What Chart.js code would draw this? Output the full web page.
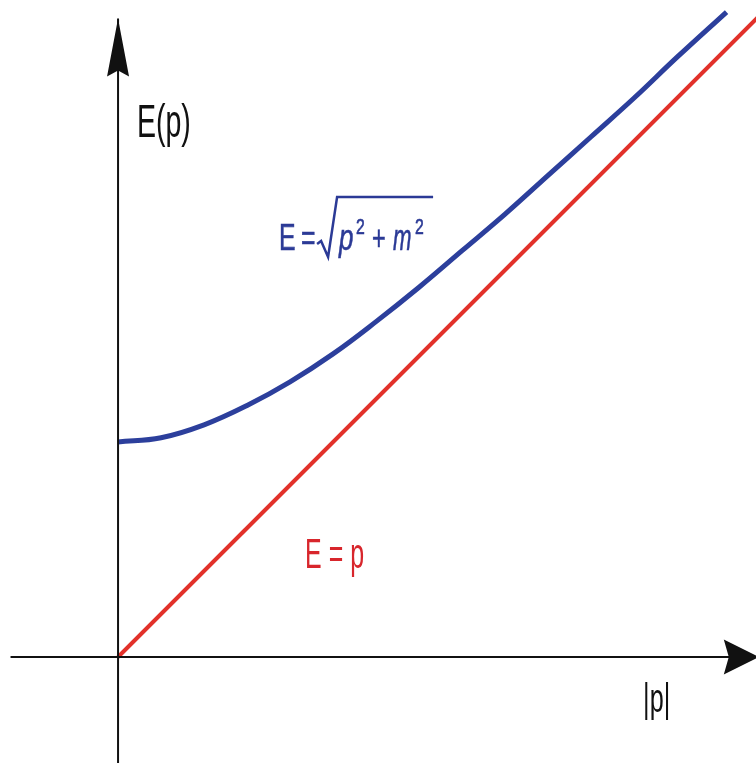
<!DOCTYPE html>
<html>
<head>
<meta charset="utf-8">
<script src="https://cdn.jsdelivr.net/npm/chart.js@4/dist/chart.umd.min.js"></script>
<style>
    html, body { margin: 0; padding: 0; background: #ffffff; }
    #wrap { width: 756px; height: 763px; }
</style>
</head>
<body>
<div id="wrap"><canvas id="energyChart"></canvas></div>
<script>
// momentum |p| in units of m, energy E in the same units
const momentum = [0, 0.2, 0.4, 0.6, 0.8, 1.0, 1.2, 1.4, 1.6, 1.8, 2.0, 2.2, 2.4, 2.6, 2.83];
const energyMassive = [1.00, 1.02, 1.08, 1.17, 1.28, 1.41, 1.56, 1.72, 1.89, 2.06, 2.24, 2.42, 2.60, 2.79, 3.00];
const momentumMassless = [0, 3.1];
const energyMassless = [0, 3.1];

// axis ends: [start, tip]
const xAxisRange = [-0.5, 2.98];
const yAxisRange = [-0.5, 2.97];

const pRange = [-0.549, 2.967];
const eRange = [-0.493, 3.056];

function toPoints(xs, ys) {
    return xs.map(function (x, i) { return { x: x, y: ys[i] }; });
}

// arrowheads at the end of each axis line, sizes in pixels
const arrowPlugin = {
    id: 'axisArrows',
    afterDatasetsDraw: function (chart) {
        const ctx = chart.ctx;
        chart.data.datasets.forEach(function (ds, i) {
            if (!ds.arrow) return;
            const pts = chart.getDatasetMeta(i).data;
            const tip = pts[pts.length - 1];
            const prev = pts[pts.length - 2];
            const ang = Math.atan2(tip.y - prev.y, tip.x - prev.x);
            const a = ds.arrow;
            ctx.save();
            ctx.translate(tip.x, tip.y);
            ctx.rotate(ang);
            ctx.beginPath();
            ctx.moveTo(0, 0);
            ctx.lineTo(-a.length, -a.half);
            ctx.lineTo(-a.length + a.notch, 0);
            ctx.lineTo(-a.length, a.half);
            ctx.closePath();
            ctx.fillStyle = '#111111';
            ctx.fill();
            ctx.restore();
        });
    }
};

// text labels, anchored in data coordinates
const labelPlugin = {
    id: 'curveLabels',
    afterDatasetsDraw: function (chart) {
        const ctx = chart.ctx;
        const xs = chart.scales.x;
        const ys = chart.scales.y;

        function squeezed(text, p, e, size, sx, color) {
            ctx.save();
            ctx.translate(xs.getPixelForValue(p), ys.getPixelForValue(e));
            ctx.scale(sx, 1);
            ctx.font = size + 'px "Liberation Sans", Arial, sans-serif';
            ctx.fillStyle = color;
            ctx.textBaseline = 'alphabetic';
            ctx.fillText(text, 0, 0);
            ctx.restore();
        }

        squeezed('E(p)', 0.088, 2.419, 46, 0.62, '#111111');
        squeezed('|p|', 2.442, -0.256, 40, 0.63, '#111111');
        squeezed('E = p', 0.870, 0.414, 43, 0.58, '#d8262c');

        // E = sqrt(p^2 + m^2)
        const blue = '#2b3a96';
        const x0 = xs.getPixelForValue(0.749);
        const y0 = ys.getPixelForValue(1.893);
        ctx.save();
        ctx.translate(x0, y0);
        ctx.fillStyle = blue;
        ctx.strokeStyle = blue;
        ctx.lineWidth = 0.6;

        function part(text, dx, dy, size, sx, italic) {
            ctx.save();
            ctx.translate(dx, dy);
            ctx.scale(sx, 1);
            ctx.font = (italic ? 'italic ' : '') + size + 'px "Liberation Sans", Arial, sans-serif';
            ctx.fillText(text, 0, 0);
            ctx.strokeText(text, 0, 0);
            ctx.restore();
        }

        part('E', 0, 0, 37, 0.67, false);
        part('=', 22, 0, 37, 0.67, false);
        part('p', 60, 0, 37, 0.7, true);
        part('2', 77, -16, 22, 0.72, false);
        part('+', 93, 0, 35, 0.67, false);
        part('m', 114, 0, 37, 0.6, true);
        part('2', 136, -16, 22, 0.72, false);

        // radical sign and bar
        ctx.lineWidth = 2.5;
        ctx.lineJoin = 'miter';
        ctx.beginPath();
        ctx.moveTo(38, -6);
        ctx.lineTo(42, -9);
        ctx.lineTo(49, 7);
        ctx.lineTo(58, -53);
        ctx.lineTo(154, -53);
        ctx.stroke();
        ctx.restore();
    }
};

const chart = new Chart(document.getElementById('energyChart'), {
    type: 'line',
    data: {
        datasets: [{
            label: 'x axis',
            data: toPoints(xAxisRange, [0, 0]),
            borderColor: '#111111',
            borderWidth: 2,
            pointRadius: 0,
            arrow: { length: 35, half: 17.5, notch: 5 }
        }, {
            label: 'y axis',
            data: toPoints([0, 0], yAxisRange),
            borderColor: '#111111',
            borderWidth: 2,
            pointRadius: 0,
            arrow: { length: 58, half: 11, notch: 6 }
        }, {
            label: 'E = p',
            data: toPoints(momentumMassless, energyMassless),
            borderColor: '#e2312a',
            borderWidth: 4,
            pointRadius: 0
        }, {
            label: 'E = sqrt(p^2 + m^2)',
            data: toPoints(momentum, energyMassive),
            borderColor: '#2c3f9c',
            borderWidth: 5,
            pointRadius: 0,
            tension: 0.4
        }]
    },
    options: {
        responsive: true,
        maintainAspectRatio: false,
        animation: false,
        layout: { padding: 0 },
        plugins: {
            legend: { display: false },
            tooltip: { enabled: false }
        },
        scales: {
            x: { type: 'linear', min: pRange[0], max: pRange[1], display: false },
            y: { type: 'linear', min: eRange[0], max: eRange[1], display: false }
        }
    },
    plugins: [arrowPlugin, labelPlugin]
});
</script>
</body>
</html>
